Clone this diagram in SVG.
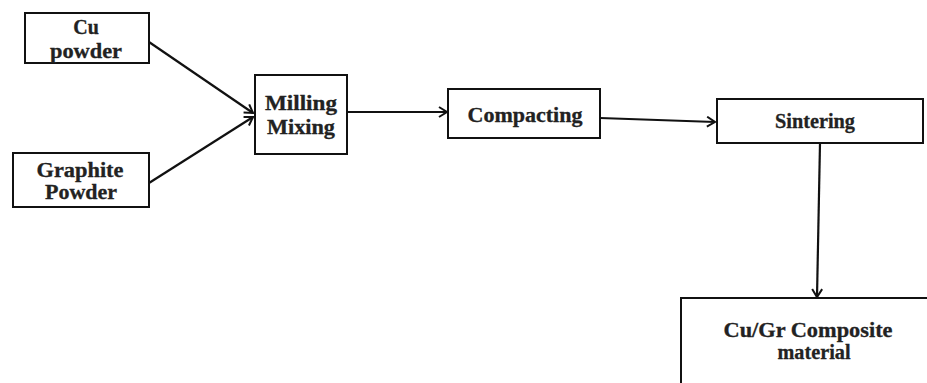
<svg xmlns="http://www.w3.org/2000/svg" width="927" height="383" viewBox="0 0 927 383">
<style>
.box{fill:#fff;stroke:#111;stroke-width:2}
.t{font-family:"Liberation Serif","Times New Roman",serif;font-weight:bold;font-size:20px;fill:#222;stroke:#222;stroke-width:0.3;text-anchor:middle}
.c{stroke:#111;stroke-width:2.2;fill:none;marker-end:url(#ah)}
</style>
<defs>
<marker id="ah" markerWidth="12" markerHeight="12" refX="10" refY="6" orient="auto" markerUnits="userSpaceOnUse">
<path d="M2,1 L10,6 L2,11" fill="none" stroke="#111" stroke-width="2"/>
</marker>
</defs>
<rect width="927" height="383" fill="#fff"/>
<g id="connectors">
<line class="c" x1="149" y1="42" x2="253" y2="113"/>
<line class="c" x1="149" y1="183" x2="253" y2="117"/>
<line class="c" x1="347" y1="112" x2="447" y2="112"/>
<line class="c" x1="600" y1="118" x2="715" y2="122"/>
<line class="c" x1="820" y1="143" x2="817" y2="297"/>
</g>
<g id="cu">
<rect class="box" x="25" y="13" width="124" height="50"/>
<text class="t" x="86" y="34">Cu</text>
<text class="t" x="86" y="58" textLength="72" lengthAdjust="spacingAndGlyphs">powder</text>
</g>
<g id="graphite">
<rect class="box" x="13" y="153" width="136" height="54"/>
<text class="t" x="80" y="177" textLength="87" lengthAdjust="spacingAndGlyphs">Graphite</text>
<text class="t" x="81" y="199" textLength="72" lengthAdjust="spacingAndGlyphs">Powder</text>
</g>
<g id="milling">
<rect class="box" x="255" y="75" width="92" height="79"/>
<text class="t" x="301" y="110" textLength="72" lengthAdjust="spacingAndGlyphs">Milling</text>
<text class="t" x="301" y="134" textLength="68" lengthAdjust="spacingAndGlyphs">Mixing</text>
</g>
<g id="compacting">
<rect class="box" x="448" y="89" width="152" height="49"/>
<text class="t" x="525" y="122" textLength="115" lengthAdjust="spacingAndGlyphs">Compacting</text>
</g>
<g id="sintering">
<rect class="box" x="717" y="99" width="206" height="44"/>
<text class="t" x="815" y="128" textLength="80" lengthAdjust="spacingAndGlyphs">Sintering</text>
</g>
<g id="composite">
<rect class="box" x="681" y="298" width="250" height="90"/>
<text class="t" x="808" y="337" textLength="169" lengthAdjust="spacingAndGlyphs">Cu/Gr Composite</text>
<text class="t" x="814" y="359" textLength="73" lengthAdjust="spacingAndGlyphs">material</text>
</g>
</svg>
